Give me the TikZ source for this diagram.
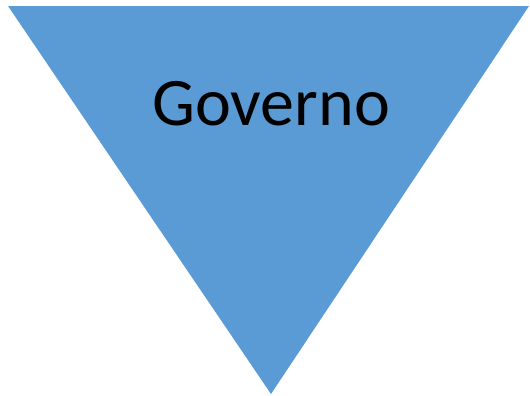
\documentclass[tikz,border=0pt]{standalone}
\usepackage{fontspec}
\setmainfont{Carlito}
\definecolor{triblue}{RGB}{91,155,213}
\begin{document}
\begin{tikzpicture}[x=1bp,y=-1bp,
  tri/.style={fill=triblue,draw=none},
  lbl/.style={font=\fontsize{68bp}{80bp}\selectfont,text=black,inner sep=0pt,anchor=base}]
\useasboundingbox (0,0) rectangle (530,395);
\coordinate (tl) at (8,6);
\coordinate (tr) at (529,6);
\coordinate (bt) at (271,394);
\fill[tri] (tl) -- (tr) -- (bt) -- cycle;
\node[lbl] (label) at (271,125) {Governo};
\end{tikzpicture}
\end{document}
